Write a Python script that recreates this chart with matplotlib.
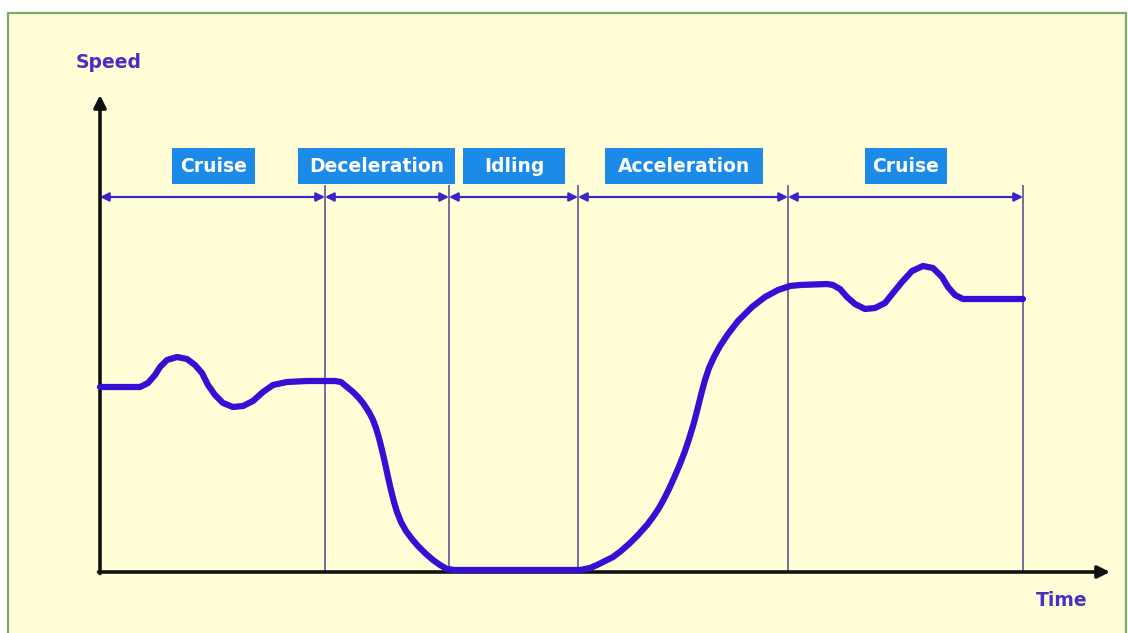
import matplotlib.pyplot as plt
from matplotlib.patches import Rectangle

# DATOS (tiempo / velocidad, unidades arbitrarias)

# Crucero 1
t_crucero1 = [0, 40, 48, 55, 60, 67, 77, 87, 95, 102, 108, 115, 123, 133, 143, 153, 163, 173, 187, 207, 227]
v_crucero1 = [185, 185, 189, 197, 205, 212, 215, 213, 207, 199, 187, 177, 169, 165, 166, 171, 180, 187, 190, 191, 191]

# Desaceleración
t_desac = [235, 241, 247, 253, 258, 263, 267, 270, 273, 276, 279, 282, 285, 288, 291, 294,
           297, 301, 306, 312, 318, 325, 333, 340, 347, 355]
v_desac = [191, 190, 185, 180, 175, 169, 163, 158, 152, 144, 134, 122, 109, 95, 82, 70,
           60, 50, 41, 33, 26, 19, 12, 7, 3, 2]

# Ralentí y aceleración
t_acel = [470, 480, 490, 497, 505, 513, 521, 530, 538, 547, 553, 559, 564, 569, 574, 580,
          585, 589, 593, 596, 599, 602, 605, 609, 614, 620, 628, 638, 652, 665, 678, 690, 700]
v_acel = [2, 2, 4, 7, 11, 15, 21, 29, 37, 47, 55, 64, 73, 83, 94, 108,
          121, 133, 146, 157, 169, 181, 192, 204, 215, 226, 238, 251, 265, 275, 282, 286, 287]

# Crucero 2
t_crucero2 = [727, 733, 740, 747, 755, 765, 775, 785, 793, 802, 812, 823, 833, 842, 848, 855, 863, 880, 923]
v_crucero2 = [288, 287, 283, 275, 268, 263, 264, 269, 279, 290, 301, 306, 304, 295, 285, 277, 273, 273, 273]

t_curve = t_crucero1 + t_desac + t_acel + t_crucero2
v_curve = v_crucero1 + v_desac + v_acel + v_crucero2

fases = ["Cruise", "Deceleration", "Idling", "Acceleration", "Cruise"]
limites = [0, 225, 349, 478, 688, 923]
caja_izq = [72, 198, 363, 505, 765]
caja_der = [155, 355, 465, 663, 847]

# ESTILO
fondo = "#FFFED6"
azul_curva = "#3510D4"
azul_flecha = "#3A26C8"
gris_linea = "#6E5F9C"
azul_caja = "#1C8AE8"
morado_texto = "#4A2EC0"

fig = plt.figure(figsize=(11.28, 6.33), dpi=100)
fig.patch.set_facecolor("white")
ax = fig.add_axes([0, 0, 1, 1])
ax.set_xlim(-100, 1028)
ax.set_ylim(-61, 572)
ax.axis("off")

# Marco verde con fondo amarillo
ax.add_patch(Rectangle((-92, -80), 1118, 639, facecolor=fondo,
                       edgecolor="#7BAA6A", lw=1.6, clip_on=False, zorder=0))

# Líneas verticales de las fases
for x in limites[1:]:
    ax.plot([x, x], [0, 386], color=gris_linea, lw=1.3, zorder=1)

# Flechas dobles de cada fase
for i in range(len(fases)):
    ax.annotate("", xy=(limites[i], 375), xytext=(limites[i + 1], 375),
                arrowprops=dict(arrowstyle="<|-|>", color=azul_flecha, lw=1.6,
                                mutation_scale=13, shrinkA=0, shrinkB=0),
                zorder=2)

# Etiquetas en cajas azules
for i, nombre in enumerate(fases):
    ax.add_patch(Rectangle((caja_izq[i], 388), caja_der[i] - caja_izq[i], 36,
                           facecolor=azul_caja, edgecolor="none", zorder=2))
    ax.text((caja_izq[i] + caja_der[i]) / 2, 405, nombre, color="white",
            fontsize=13.5, fontweight="bold", ha="center", va="center", zorder=3)

# Ejes con flecha
ax.annotate("", xy=(0, 477), xytext=(0, -1.5),
            arrowprops=dict(arrowstyle="-|>", color="#111111", lw=2.6,
                            mutation_scale=18, shrinkA=0, shrinkB=0), zorder=3)
ax.annotate("", xy=(1010, 0), xytext=(-1.5, 0),
            arrowprops=dict(arrowstyle="-|>", color="#111111", lw=2.6,
                            mutation_scale=18, shrinkA=0, shrinkB=0), zorder=3)

# Curva de velocidad
ax.plot(t_curve, v_curve, color=azul_curva, lw=4.5,
        solid_joinstyle="round", solid_capstyle="round", zorder=4)

ax.text(9, 510, "Speed", color=morado_texto, fontsize=13.5, fontweight="bold",
        ha="center", va="center")
ax.text(962, -29, "Time", color=morado_texto, fontsize=13.5, fontweight="bold",
        ha="center", va="center")

plt.savefig("out.png", dpi=100, facecolor=fig.get_facecolor())
